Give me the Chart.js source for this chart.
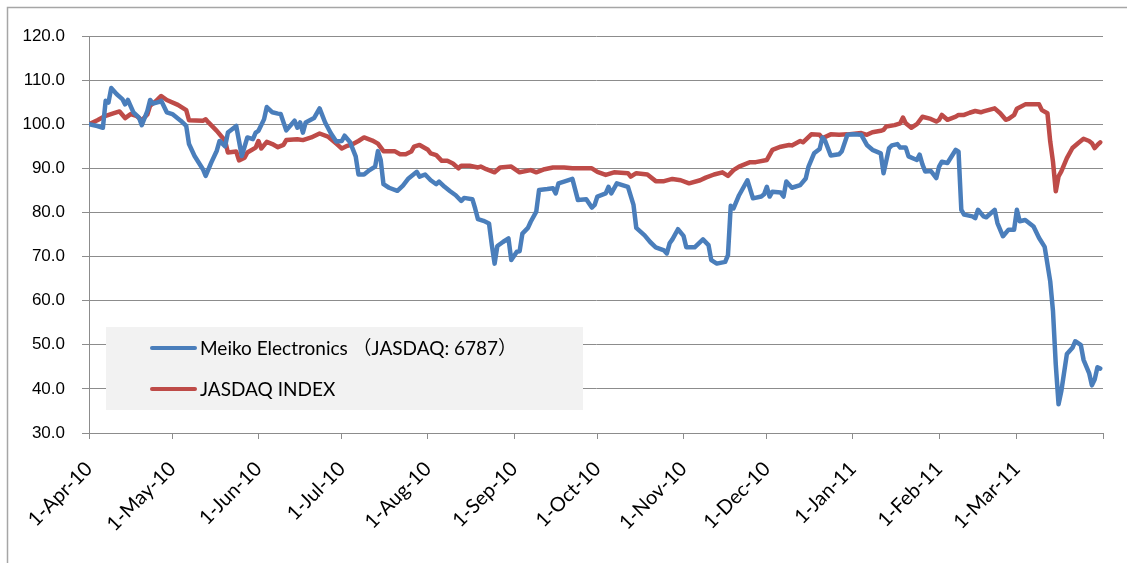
<!DOCTYPE html>
<html>
<head>
<meta charset="utf-8">
<script src="https://cdn.jsdelivr.net/npm/chart.js@4.4.0/dist/chart.umd.min.js"></script>
<style>
html,body{margin:0;padding:0;background:#fff;}
canvas{display:block;}
</style>
</head>
<body>
<canvas id="c" width="1127" height="563"></canvas>
<script>
// Day offsets counted from 1-Apr-2010
const tickDays = [0, 30, 61, 91, 122, 153, 183, 214, 244, 275, 306, 334, 365];
const tickLabels = ['1-Apr-10','1-May-10','1-Jun-10','1-Jul-10','1-Aug-10','1-Sep-10','1-Oct-10','1-Nov-10','1-Dec-10','1-Jan-11','1-Feb-11','1-Mar-11',''];

const seriesNames = ['Meiko Electronics \uFF08JASDAQ: 6787\uFF09', 'JASDAQ INDEX'];

const meikoDays = [0,3,5,6,7,8,10,12,13,14,16,18,19,21,22,23,25,26,28,30,33,35,36,38,41,42,44,46,47,49,50,53,55,57,59,60,61,63,64,66,68,69,71,74,75,76,77,78,81,83,85,87,89,91,92,94,96,97,99,101,103,104,105,106,108,111,113,115,118,119,121,123,125,126,128,130,132,134,135,138,139,140,142,144,145,146,147,149,151,152,154,155,156,158,159,161,162,165,167,168,169,171,174,176,179,181,182,183,186,187,188,190,192,194,196,197,200,202,204,207,208,209,210,212,214,215,218,221,223,224,226,229,230,231,232,234,237,239,242,243,244,245,246,249,250,251,253,256,258,259,261,263,264,265,267,270,271,273,275,278,280,282,285,286,288,289,291,292,294,295,298,299,300,301,303,305,306,307,309,312,313,314,315,318,319,320,322,323,326,327,329,331,333,334,335,337,340,342,344,346,347,348,349,350,352,354,355,357,358,360,361,362,363,364];
const meikoValues = [100,99.6,99.2,105.3,104.9,108.2,106.8,105.7,104.5,105.5,102.7,101.5,99.8,103,105.5,104.7,105,105.3,102.7,102.3,100.8,99.6,95.5,92.8,89.8,88.3,91.3,94,96.2,95,98.1,99.6,92.8,97,96.6,98.1,98.5,101.1,103.9,102.7,102.4,102.3,98.6,100.8,99.2,100.4,98.1,100.4,101.4,103.6,100.4,98,96.1,96.2,97.4,95.9,92.7,88.6,88.6,89.6,90.4,93.9,91.9,86.4,85.6,84.9,86.1,87.7,89.2,88.1,88.6,87.3,86.4,87,85.8,84.8,83.9,82.6,83.3,83,80.9,78.5,78.1,77.5,72.6,68.4,72.4,73.3,74.1,69.2,71.1,71.2,75.2,76.5,77.9,80.2,85.1,85.3,85.5,84.3,86.6,87,87.6,82.8,83,81.1,81.7,83.6,84.3,85.8,84.3,86.6,86.2,85.8,81.7,76.5,74.8,73.3,72.1,71.4,70.7,73,73.9,76.2,74.7,72.1,72.1,73.9,72.6,69.2,68.4,68.8,70.3,81.5,80.9,83.9,87.3,83.2,83.6,84.1,85.8,83.6,84.7,84.5,83.6,87,85.6,86.2,87.7,90.4,93.4,94.4,97,96.2,92.9,93.2,93.9,97.6,97.7,97.6,95.3,94.2,93.4,88.9,94.6,95.2,95.5,94.7,94.7,92.7,91.9,93.1,90.9,89.3,89.4,87.8,90.4,91.5,91.2,94.2,93.8,80.6,79.5,79.1,78.7,80.6,79.1,78.9,80.6,77.6,74.6,76.1,76.1,80.6,78,78.3,76.8,74.2,72.2,64.4,57.6,45.5,36.5,39.5,47.9,49.3,50.8,50,46.6,43.6,40.8,42.1,44.9,44.6];

const jasdaqDays = [0,3,6,9,11,13,15,17,19,21,22,24,26,28,32,35,36,41,42,43,46,48,49,50,53,54,56,57,60,61,62,64,66,68,70,71,75,77,80,83,86,89,91,93,95,97,99,102,104,106,110,112,114,116,117,119,122,123,125,127,129,131,133,134,137,140,141,143,146,148,152,155,159,161,164,167,171,174,177,181,183,186,189,194,195,197,201,204,207,210,213,216,220,222,225,228,230,232,234,238,240,244,246,249,252,253,256,257,260,263,264,267,270,273,278,280,282,285,286,287,290,292,293,294,296,298,300,303,305,306,307,309,312,313,315,317,319,321,322,326,328,330,331,333,334,337,342,343,345,346,347,348,349,350,352,354,356,358,360,361,362,363,364];
const jasdaqValues = [100,100.9,101.9,102.5,102.9,101.4,102.3,101.9,100.9,102.2,104.2,105.2,106.4,105.5,104.4,103.2,100.9,100.8,101.1,100.4,98.5,97,96.2,93.6,93.8,91.8,92.4,93.6,94.7,96.2,94.5,96,95.5,94.8,95.3,96.4,96.6,96.4,97,97.9,97.2,95.6,94.5,95.1,95.5,96.2,97,96.3,95.6,93.9,93.9,93.2,93.2,93.8,94.9,95.3,94.2,93.4,93,91.7,91.7,91.1,90,90.6,90.6,90.2,90.4,89.8,89.1,90.2,90.4,89.1,89.6,89.1,89.8,90.2,90.2,90,90,90,89.2,88.5,89.1,88.9,88.1,88.9,88.6,87.1,87.1,87.6,87.3,86.6,87.3,87.9,88.6,89.1,88.3,89.6,90.4,91.4,91.4,91.9,94.2,94.9,95.3,95.2,96.2,95.9,97.7,97.6,96.8,97.7,97.6,97.7,98,97.6,98.2,98.5,98.7,99.5,99.8,100.2,101.5,100.2,99.2,100,101.7,101.2,100.6,101,102.1,101,101.7,102.1,102.1,102.6,103,102.7,102.9,103.6,102.5,101,101.2,102.1,103.5,104.5,104.5,103.2,102.5,96.1,91.5,84.8,88.2,89.3,92.3,94.6,95.7,96.7,96.2,95.7,94.6,95.3,95.9];

const yMin = 30, yMax = 120, yStep = 10;

const toPoints = (days, vals) => days.map((d, i) => ({ x: d, y: vals[i] }));

const frame = {
  id: 'frame',
  beforeDraw(chart) {
    const ctx = chart.ctx;
    ctx.save();
    ctx.fillStyle = '#ffffff';
    ctx.fillRect(0, 0, chart.width, chart.height);
    ctx.strokeStyle = '#a6a6a6';
    ctx.lineWidth = 1.5;
    ctx.beginPath();
    ctx.moveTo(7.5, chart.height);
    ctx.lineTo(7.5, 7.5);
    ctx.lineTo(chart.width, 7.5);
    ctx.stroke();
    ctx.restore();
  }
};

const boxLegend = {
  id: 'boxLegend',
  afterDraw(chart) {
    const ctx = chart.ctx;
    ctx.save();
    ctx.fillStyle = '#f2f2f2';
    ctx.fillRect(106, 327, 477, 83);
    const rows = [348, 389];
    chart.data.datasets.forEach((ds, i) => {
      const y = rows[i];
      ctx.strokeStyle = ds.borderColor;
      ctx.lineWidth = 4;
      ctx.lineCap = 'round';
      ctx.beginPath();
      ctx.moveTo(152, y);
      ctx.lineTo(195, y);
      ctx.stroke();
      ctx.fillStyle = '#000';
      ctx.font = '19px Lato, "Noto Sans CJK JP", sans-serif';
      ctx.textBaseline = 'middle';
      ctx.textAlign = 'left';
      ctx.fillText(ds.label, 200, y + 1);
    });
    ctx.restore();
  }
};

new Chart(document.getElementById('c'), {
  type: 'line',
  data: {
    datasets: [
      { label: seriesNames[0], data: toPoints(meikoDays, meikoValues), borderColor: '#4a7ebb', backgroundColor: '#4a7ebb', borderWidth: 4.5, pointRadius: 0, tension: 0, borderJoinStyle: 'round', borderCapStyle: 'round' },
      { label: seriesNames[1], data: toPoints(jasdaqDays, jasdaqValues), borderColor: '#be4b48', backgroundColor: '#be4b48', borderWidth: 4.5, pointRadius: 0, tension: 0, borderJoinStyle: 'round', borderCapStyle: 'round' }
    ]
  },
  options: {
    responsive: false,
    animation: false,
    devicePixelRatio: 1,
    layout: { padding: { left: 0, top: 36, right: 24, bottom: 0 } },
    plugins: { legend: { display: false }, tooltip: { enabled: false } },
    scales: {
      x: {
        type: 'linear',
        min: tickDays[0],
        max: tickDays[tickDays.length - 1],
        afterBuildTicks: (axis) => { axis.ticks = tickDays.map(v => ({ value: v })); },
        afterFit: (s) => { s.height = 130; s.paddingLeft = 0; s.paddingRight = 0; },
        ticks: {
          autoSkip: false,
          maxRotation: 45,
          minRotation: 45,
          padding: 18,
          color: '#000',
          font: { family: 'Lato', size: 20 },
          callback: (v) => { const i = tickDays.indexOf(v); return i >= 0 ? tickLabels[i] : ''; }
        },
        grid: { drawOnChartArea: false, drawTicks: true, tickLength: 6, color: '#8c8c8c' },
        border: { color: '#8c8c8c', width: 1 }
      },
      y: {
        min: yMin,
        max: yMax,
        afterFit: (s) => { s.width = 89; },
        ticks: {
          stepSize: yStep,
          padding: 17,
          color: '#000',
          font: { family: '"Liberation Sans", Arial, sans-serif', size: 17 },
          callback: (v) => Number(v).toFixed(1)
        },
        grid: { color: '#8c8c8c', tickLength: 7, lineWidth: 1 },
        border: { color: '#8c8c8c', width: 1 }
      }
    }
  },
  plugins: [frame, boxLegend]
});
</script>
</body>
</html>
